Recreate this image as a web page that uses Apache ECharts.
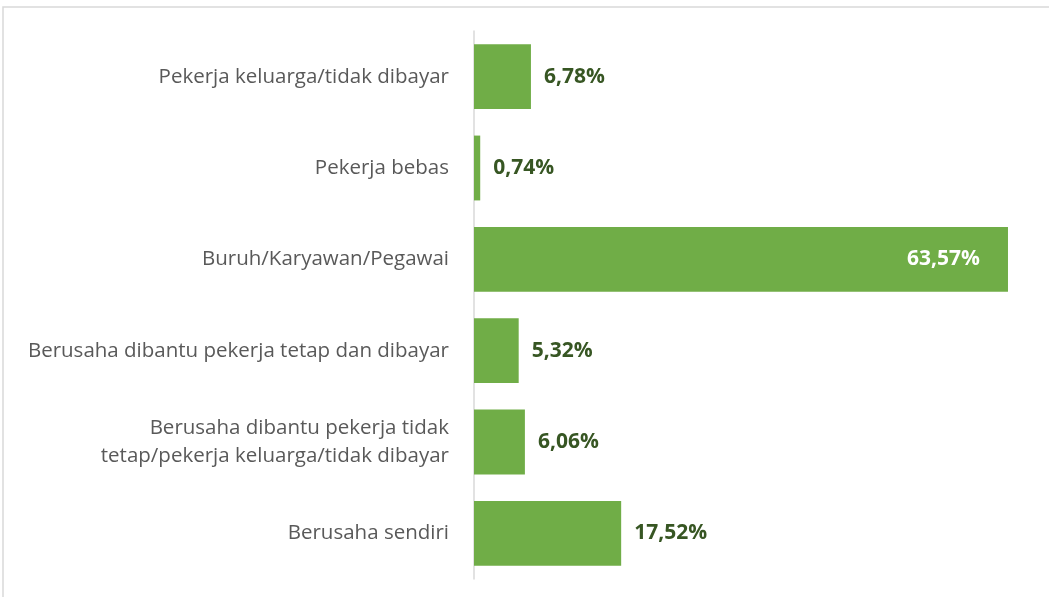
<!DOCTYPE html>
<html>
<head>
<meta charset="utf-8">
<script src="https://cdn.jsdelivr.net/npm/echarts@6/dist/echarts.min.js"></script>
<style>
  html, body { margin: 0; padding: 0; background: #fff; }
  #main { width: 1049px; height: 597px; }
</style>
</head>
<body>
<div id="main"></div>
<script>
// kategori dari bawah ke atas
const categories = [
  "Berusaha sendiri",
  "Berusaha dibantu pekerja tidak\ntetap/pekerja keluarga/tidak dibayar",
  "Berusaha dibantu pekerja tetap dan dibayar",
  "Buruh/Karyawan/Pegawai",
  "Pekerja bebas",
  "Pekerja keluarga/tidak dibayar"
];
const values = [17.52, 6.06, 5.32, 63.57, 0.74, 6.78];

const fmt = v => v.toFixed(2).replace(".", ",") + "%";

let myChart = echarts.init(document.getElementById("main"));
let option = {
  animation: false,
  textStyle: { fontFamily: "Open Sans" },
  graphic: [
    {
      type: "rect",
      shape: { x: 3, y: 7, width: 1100, height: 700 },
      style: { fill: "none", stroke: "#d9d9d9", lineWidth: 1.5 },
      silent: true
    }
  ],
  grid: {
    left: 474,
    right: 29,
    top: 31,
    bottom: 18
  },
  xAxis: {
    type: "value",
    min: 0,
    max: 65,
    show: false
  },
  yAxis: {
    type: "category",
    data: categories,
    axisTick: { show: false },
    axisLine: { lineStyle: { color: "#d9d9d9", width: 1.5 } },
    axisLabel: {
      color: "#595959",
      fontSize: 20.5,
      margin: 25,
      lineHeight: 28,
      align: "right"
    }
  },
  series: [
    {
      type: "bar",
      data: values.map((v, i) => ({
        value: v,
        label: i === 3
          ? { position: "insideRight", color: "#ffffff", distance: 28 }
          : {}
      })),
      barCategoryGap: "29%",
      itemStyle: { color: "#70ad47" },
      label: {
        show: true,
        position: "right",
        distance: 13,
        color: "#375623",
        fontWeight: "bold",
        fontSize: 21,
        formatter: p => fmt(p.value)
      }
    }
  ]
};
myChart.setOption(option);
</script>
</body>
</html>
